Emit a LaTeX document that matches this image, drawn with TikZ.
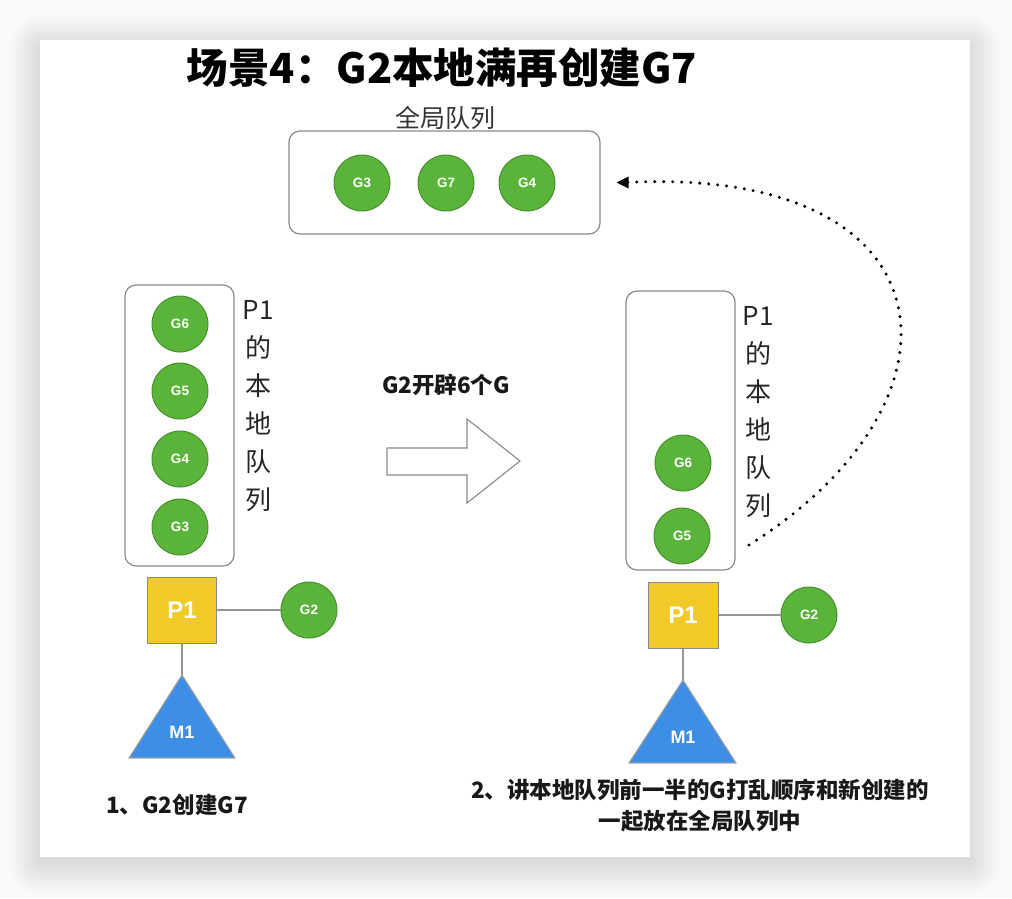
\documentclass[tikz,border=0pt]{standalone}
\usepackage{fontspec}
\setmainfont{Noto Sans CJK SC}
\newfontfamily\lat{Liberation Sans}
\usetikzlibrary{arrows.meta}
\definecolor{ggreen}{HTML}{5BB43A}
\definecolor{gborder}{HTML}{4A8F30}
\definecolor{pyellow}{HTML}{F1C928}
\definecolor{mblue}{HTML}{3D8EE6}
\definecolor{boxgray}{HTML}{8A8A8A}
\definecolor{bggray}{HTML}{FAFAFA}
\begin{document}
\begin{tikzpicture}[x=1pt,y=-1pt,
  gnode/.style={circle, fill=ggreen, draw=gborder, line width=1pt, minimum size=56pt, inner sep=0pt, text=white, font=\lat\bfseries\fontsize{13.5}{13.5}\selectfont},
  qbox/.style={draw=boxgray, line width=1.2pt, rounded corners=11pt, inner sep=0pt},
  pbox/.style={fill=pyellow, draw=boxgray, line width=1pt, inner sep=0pt, text=white, font=\lat\bfseries\fontsize{24}{24}\selectfont},
  vlabel/.style={align=center, text=black!85, font=\fontsize{26}{38}\selectfont},
  link/.style={draw=boxgray!90, line width=1.3pt},
  mtri/.style={fill=mblue, draw=boxgray!80, line width=0.8pt},
  mlabel/.style={text=white, font=\lat\bfseries\fontsize{18}{18}\selectfont},
  caption/.style={align=center, text=black!90, font=\bfseries\fontsize{22.5}{31}\selectfont},
  flow/.style={line width=3.4pt, dash pattern=on 0pt off 9pt, line cap=round}
]
\useasboundingbox (0,0) rectangle (1012,898);
\fill[bggray] (0,0) rectangle (1012,898);
% soft card shadow
\foreach \d in {30,28,...,2}{
  \fill[black, opacity=0.007, rounded corners=\d pt] (40-\d,40-\d+6) rectangle (970+\d,857+\d+6);
}
\fill[white] (40,40) rectangle (970,857);

% title
\node[font=\bfseries\fontsize{41.5}{41.5}\selectfont] (title) at (442,68) {场景4：G2本地满再创建G7};

% global queue
\node[font=\fontsize{25}{25}\selectfont, text=black!80] (gqlabel) at (445,118) {全局队列};
\node[qbox, minimum width=311pt, minimum height=103pt] (gq) at (444.5,182.5) {};
\node[gnode] (gq3) at (362,183) {G3};
\node[gnode] (gq7) at (446,183) {G7};
\node[gnode] (gq4) at (527,183) {G4};

% left panel
\node[qbox, minimum width=109pt, minimum height=281pt] (lq) at (179.5,425.5) {};
\node[gnode] (lg6) at (180,324) {G6};
\node[gnode] (lg5) at (180,391) {G5};
\node[gnode] (lg4) at (180,459) {G4};
\node[gnode] (lg3) at (180,527) {G3};
\node[vlabel] (llab) at (258,406) {P1\\的\\本\\地\\队\\列};
\node[pbox, minimum width=69pt, minimum height=66pt] (lp1) at (182,610) {P1};
\node[gnode] (lg2) at (309,610) {G2};
\coordinate (lmtop) at (182,675);
\draw[link] (lp1) -- (lg2);
\draw[link] (lp1.south) -- (lmtop);
\fill[mtri] (lmtop) -- (129,758) -- (235,758) -- cycle;
\draw[boxgray!80, line width=0.8pt] (lmtop) -- (129,758) -- (235,758) -- cycle;
\node[mlabel] (lm1) at (182,732) {M1};
\node[caption] (lcap) at (177,805) {1、G2创建G7};

% middle
\node[caption] (mid) at (446,385) {G2开辟6个G};
\draw[draw=boxgray, line width=1.1pt, fill=white] (387,448) -- (467,448) -- (467,419) -- (520,461) -- (467,503) -- (467,475) -- (387,475) -- cycle;

% right panel
\node[qbox, minimum width=109pt, minimum height=279pt] (rq) at (680.5,430.5) {};
\node[gnode] (rg6) at (683,463) {G6};
\node[gnode] (rg5) at (682,536) {G5};
\node[vlabel] (rlab) at (758,412) {P1\\的\\本\\地\\队\\列};
\node[pbox, minimum width=70pt, minimum height=66pt] (rp1) at (683,615) {P1};
\node[gnode] (rg2) at (809,615) {G2};
\coordinate (rmtop) at (683,680);
\draw[link] (rp1) -- (rg2);
\draw[link] (rp1.south) -- (rmtop);
\fill[mtri] (rmtop) -- (629,763) -- (736,763) -- cycle;
\draw[boxgray!80, line width=0.8pt] (rmtop) -- (629,763) -- (736,763) -- cycle;
\node[mlabel] (rm1) at (683,737) {M1};
\node[caption] (rcap) at (700,806) {2、讲本地队列前一半的G打乱顺序和新创建的\\一起放在全局队列中};

% dotted flow back to global queue
\coordinate (fstart) at (749,545);
\draw[flow] (fstart) .. controls (980,400) and (955,165) .. ([xshift=24pt]gq.east);
\fill[black] ([xshift=16pt]gq.east) -- ++(12,-6) -- ++(0,12) -- cycle;
\end{tikzpicture}
\end{document}
